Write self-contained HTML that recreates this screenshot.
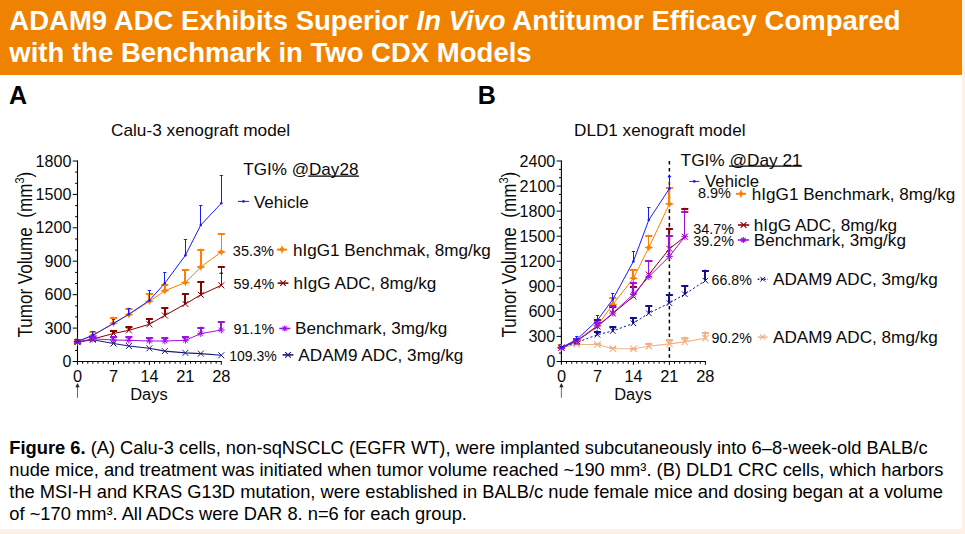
<!DOCTYPE html>
<html lang="en">
<head>
<meta charset="utf-8">
<title>ADAM9 ADC Figure 6</title>
<style>
html,body{margin:0;padding:0;}
body{width:965px;height:534px;overflow:hidden;background:#fef0e5;font-family:"Liberation Sans", sans-serif;position:relative;}
#panel{position:absolute;left:0;top:0;width:962px;height:529px;background:#fff;}
#hdr{position:absolute;left:0;top:0;width:962px;height:74.6px;background:#ef8200;}
#hdr h1{position:absolute;left:9.3px;top:5.1px;margin:0;font-size:27.52px;line-height:32px;font-weight:bold;color:#fff;white-space:nowrap;letter-spacing:0;}
.pl{position:absolute;font-weight:bold;font-size:25px;line-height:25px;color:#000;}
#cap{position:absolute;left:9.3px;top:437.0px;width:950px;margin:0;font-size:18.31px;line-height:21.9px;color:#000;white-space:nowrap;}
</style>
</head>
<body>
<div id="panel"></div>
<div id="hdr"><h1>ADAM9 ADC Exhibits Superior <i>In Vivo</i> Antitumor Efficacy Compared<br>with the Benchmark in Two CDX Models</h1></div>
<div class="pl" style="left:9.0px;top:82.7px">A</div>
<div class="pl" style="left:477.7px;top:82.7px">B</div>
<svg width="965" height="534" viewBox="0 0 965 534" style="position:absolute;left:0;top:0" font-family='"Liberation Sans", sans-serif' fill="#0a0a0a">
<path d="M77.5 160.5V364.8" stroke="#000" stroke-width="1.1"/>
<path d="M72.7 361.5H221.8" stroke="#000" stroke-width="1.1"/>
<path d="M75.1 350.4H77.5" stroke="#000" stroke-width="1"/>
<path d="M75.1 339.2H77.5" stroke="#000" stroke-width="1"/>
<path d="M72.7 328.1H77.5" stroke="#000" stroke-width="1"/>
<path d="M75.1 316.9H77.5" stroke="#000" stroke-width="1"/>
<path d="M75.1 305.8H77.5" stroke="#000" stroke-width="1"/>
<path d="M72.7 294.7H77.5" stroke="#000" stroke-width="1"/>
<path d="M75.1 283.5H77.5" stroke="#000" stroke-width="1"/>
<path d="M75.1 272.4H77.5" stroke="#000" stroke-width="1"/>
<path d="M72.7 261.2H77.5" stroke="#000" stroke-width="1"/>
<path d="M75.1 250.1H77.5" stroke="#000" stroke-width="1"/>
<path d="M75.1 239.0H77.5" stroke="#000" stroke-width="1"/>
<path d="M72.7 227.8H77.5" stroke="#000" stroke-width="1"/>
<path d="M75.1 216.7H77.5" stroke="#000" stroke-width="1"/>
<path d="M75.1 205.6H77.5" stroke="#000" stroke-width="1"/>
<path d="M72.7 194.4H77.5" stroke="#000" stroke-width="1"/>
<path d="M75.1 183.3H77.5" stroke="#000" stroke-width="1"/>
<path d="M75.1 172.1H77.5" stroke="#000" stroke-width="1"/>
<path d="M72.7 161.0H77.5" stroke="#000" stroke-width="1"/>
<path d="M82.6 361.5V363.7" stroke="#000" stroke-width="1"/>
<path d="M87.8 361.5V363.7" stroke="#000" stroke-width="1"/>
<path d="M92.9 361.5V363.7" stroke="#000" stroke-width="1"/>
<path d="M98.0 361.5V363.7" stroke="#000" stroke-width="1"/>
<path d="M103.2 361.5V363.7" stroke="#000" stroke-width="1"/>
<path d="M108.3 361.5V363.7" stroke="#000" stroke-width="1"/>
<path d="M113.5 361.5V364.8" stroke="#000" stroke-width="1"/>
<path d="M118.6 361.5V363.7" stroke="#000" stroke-width="1"/>
<path d="M123.7 361.5V363.7" stroke="#000" stroke-width="1"/>
<path d="M128.9 361.5V363.7" stroke="#000" stroke-width="1"/>
<path d="M134.0 361.5V363.7" stroke="#000" stroke-width="1"/>
<path d="M139.1 361.5V363.7" stroke="#000" stroke-width="1"/>
<path d="M144.3 361.5V363.7" stroke="#000" stroke-width="1"/>
<path d="M149.4 361.5V364.8" stroke="#000" stroke-width="1"/>
<path d="M154.5 361.5V363.7" stroke="#000" stroke-width="1"/>
<path d="M159.7 361.5V363.7" stroke="#000" stroke-width="1"/>
<path d="M164.8 361.5V363.7" stroke="#000" stroke-width="1"/>
<path d="M169.9 361.5V363.7" stroke="#000" stroke-width="1"/>
<path d="M175.1 361.5V363.7" stroke="#000" stroke-width="1"/>
<path d="M180.2 361.5V363.7" stroke="#000" stroke-width="1"/>
<path d="M185.4 361.5V364.8" stroke="#000" stroke-width="1"/>
<path d="M190.5 361.5V363.7" stroke="#000" stroke-width="1"/>
<path d="M195.6 361.5V363.7" stroke="#000" stroke-width="1"/>
<path d="M200.8 361.5V363.7" stroke="#000" stroke-width="1"/>
<path d="M205.9 361.5V363.7" stroke="#000" stroke-width="1"/>
<path d="M211.0 361.5V363.7" stroke="#000" stroke-width="1"/>
<path d="M216.2 361.5V363.7" stroke="#000" stroke-width="1"/>
<path d="M221.3 361.5V364.8" stroke="#000" stroke-width="1"/>
<path d="M77.5 342.0L92.9 339.8L113.5 343.5L128.9 346.0L149.4 348.3L164.8 351.1L185.4 352.9L200.8 353.6L221.3 355.3" stroke="#1c1c78" stroke-width="1.1" fill="none"/>
<path d="M74.5 339.0L80.5 345.0M74.5 345.0L80.5 339.0" stroke="#1c1c78" stroke-width="1.0" fill="none"/>
<path d="M89.9 336.8L95.9 342.8M89.9 342.8L95.9 336.8" stroke="#1c1c78" stroke-width="1.0" fill="none"/>
<path d="M110.5 340.5L116.5 346.5M110.5 346.5L116.5 340.5" stroke="#1c1c78" stroke-width="1.0" fill="none"/>
<path d="M125.9 343.0L131.9 349.0M125.9 349.0L131.9 343.0" stroke="#1c1c78" stroke-width="1.0" fill="none"/>
<path d="M146.4 345.3L152.4 351.3M146.4 351.3L152.4 345.3" stroke="#1c1c78" stroke-width="1.0" fill="none"/>
<path d="M161.8 348.1L167.8 354.1M161.8 354.1L167.8 348.1" stroke="#1c1c78" stroke-width="1.0" fill="none"/>
<path d="M182.4 349.9L188.4 355.9M182.4 355.9L188.4 349.9" stroke="#1c1c78" stroke-width="1.0" fill="none"/>
<path d="M197.8 350.6L203.8 356.6M197.8 356.6L203.8 350.6" stroke="#1c1c78" stroke-width="1.0" fill="none"/>
<path d="M218.3 352.3L224.3 358.3M218.3 358.3L224.3 352.3" stroke="#1c1c78" stroke-width="1.0" fill="none"/>
<path d="M77.5 342.0L92.9 335.3L113.5 323.2L128.9 314.6L149.4 301.3L164.8 290.8L185.4 282.5L200.8 267.0L221.3 251.9" stroke="#ff7f00" stroke-width="1.0" fill="none"/>
<path d="M78.0 342.0V340.5" stroke="#ff7f00" stroke-width="2.0"/>
<path d="M74.0 341.0H81.0" stroke="#ff7f00" stroke-width="2.0"/>
<path d="M93.0 335.3V331.0" stroke="#ff7f00" stroke-width="2.0"/>
<path d="M89.4 332.0H96.4" stroke="#ff7f00" stroke-width="2.0"/>
<path d="M113.0 323.2V316.8" stroke="#ff7f00" stroke-width="2.0"/>
<path d="M110.0 318.0H117.0" stroke="#ff7f00" stroke-width="2.0"/>
<path d="M129.0 314.6V307.8" stroke="#ff7f00" stroke-width="2.0"/>
<path d="M125.4 309.0H132.4" stroke="#ff7f00" stroke-width="2.0"/>
<path d="M149.0 301.3V293.0" stroke="#ff7f00" stroke-width="2.0"/>
<path d="M145.9 294.0H152.9" stroke="#ff7f00" stroke-width="2.0"/>
<path d="M165.0 290.8V283.7" stroke="#ff7f00" stroke-width="2.0"/>
<path d="M161.3 285.0H168.3" stroke="#ff7f00" stroke-width="2.0"/>
<path d="M185.0 282.5V268.9" stroke="#ff7f00" stroke-width="2.0"/>
<path d="M181.9 270.0H188.9" stroke="#ff7f00" stroke-width="2.0"/>
<path d="M201.0 267.0V248.8" stroke="#ff7f00" stroke-width="2.0"/>
<path d="M197.3 250.0H204.3" stroke="#ff7f00" stroke-width="2.0"/>
<path d="M221.5 251.9V233.2" stroke="#ff7f00" stroke-width="1.0"/>
<path d="M217.8 234.0H224.8" stroke="#ff7f00" stroke-width="2.0"/>
<path d="M74.0 342.0L77.5 339.5L81.0 342.0L77.5 344.5Z" fill="#ff7f00"/><path d="M77.5 338.6V345.4M73.5 342.0H81.5" stroke="#ff7f00" stroke-width="1.0"/>
<path d="M89.4 335.3L92.9 332.8L96.4 335.3L92.9 337.8Z" fill="#ff7f00"/><path d="M92.9 331.9V338.7M88.9 335.3H96.9" stroke="#ff7f00" stroke-width="1.0"/>
<path d="M110.0 323.2L113.5 320.7L117.0 323.2L113.5 325.7Z" fill="#ff7f00"/><path d="M113.5 319.8V326.6M109.5 323.2H117.5" stroke="#ff7f00" stroke-width="1.0"/>
<path d="M125.4 314.6L128.9 312.1L132.4 314.6L128.9 317.1Z" fill="#ff7f00"/><path d="M128.9 311.2V318.0M124.9 314.6H132.9" stroke="#ff7f00" stroke-width="1.0"/>
<path d="M145.9 301.3L149.4 298.8L152.9 301.3L149.4 303.8Z" fill="#ff7f00"/><path d="M149.4 297.9V304.7M145.4 301.3H153.4" stroke="#ff7f00" stroke-width="1.0"/>
<path d="M161.3 290.8L164.8 288.3L168.3 290.8L164.8 293.3Z" fill="#ff7f00"/><path d="M164.8 287.4V294.2M160.8 290.8H168.8" stroke="#ff7f00" stroke-width="1.0"/>
<path d="M181.9 282.5L185.4 280.0L188.9 282.5L185.4 285.0Z" fill="#ff7f00"/><path d="M185.4 279.1V285.9M181.4 282.5H189.4" stroke="#ff7f00" stroke-width="1.0"/>
<path d="M197.3 267.0L200.8 264.5L204.3 267.0L200.8 269.5Z" fill="#ff7f00"/><path d="M200.8 263.6V270.4M196.8 267.0H204.8" stroke="#ff7f00" stroke-width="1.0"/>
<path d="M217.8 251.9L221.3 249.4L224.8 251.9L221.3 254.4Z" fill="#ff7f00"/><path d="M221.3 248.5V255.3M217.3 251.9H225.3" stroke="#ff7f00" stroke-width="1.0"/>
<path d="M77.5 342.2L92.9 339.0L113.5 333.5L128.9 330.3L149.4 324.3L164.8 315.5L185.4 304.0L200.8 294.8L221.3 285.3" stroke="#8b0000" stroke-width="1.0" fill="none"/>
<path d="M78.0 342.2V341.0" stroke="#8b0000" stroke-width="2.0"/>
<path d="M74.0 342.0H81.0" stroke="#8b0000" stroke-width="2.0"/>
<path d="M93.0 339.0V336.9" stroke="#8b0000" stroke-width="2.0"/>
<path d="M89.4 338.0H96.4" stroke="#8b0000" stroke-width="2.0"/>
<path d="M113.0 333.5V330.1" stroke="#8b0000" stroke-width="2.0"/>
<path d="M110.0 331.0H117.0" stroke="#8b0000" stroke-width="2.0"/>
<path d="M129.0 330.3V326.0" stroke="#8b0000" stroke-width="2.0"/>
<path d="M125.4 327.0H132.4" stroke="#8b0000" stroke-width="2.0"/>
<path d="M149.0 324.3V318.3" stroke="#8b0000" stroke-width="2.0"/>
<path d="M145.9 319.0H152.9" stroke="#8b0000" stroke-width="2.0"/>
<path d="M165.0 315.5V307.0" stroke="#8b0000" stroke-width="2.0"/>
<path d="M161.3 308.0H168.3" stroke="#8b0000" stroke-width="2.0"/>
<path d="M185.0 304.0V293.0" stroke="#8b0000" stroke-width="2.0"/>
<path d="M181.9 294.0H188.9" stroke="#8b0000" stroke-width="2.0"/>
<path d="M201.0 294.8V280.9" stroke="#8b0000" stroke-width="2.0"/>
<path d="M197.3 282.0H204.3" stroke="#8b0000" stroke-width="2.0"/>
<path d="M221.5 285.3V266.1" stroke="#8b0000" stroke-width="1.0"/>
<path d="M217.8 267.0H224.8" stroke="#8b0000" stroke-width="2.0"/>
<path d="M74.5 339.2L80.5 345.2M74.5 345.2L80.5 339.2" stroke="#8b0000" stroke-width="1.0" fill="none"/>
<path d="M89.9 336.0L95.9 342.0M89.9 342.0L95.9 336.0" stroke="#8b0000" stroke-width="1.0" fill="none"/>
<path d="M110.5 330.5L116.5 336.5M110.5 336.5L116.5 330.5" stroke="#8b0000" stroke-width="1.0" fill="none"/>
<path d="M125.9 327.3L131.9 333.3M125.9 333.3L131.9 327.3" stroke="#8b0000" stroke-width="1.0" fill="none"/>
<path d="M146.4 321.3L152.4 327.3M146.4 327.3L152.4 321.3" stroke="#8b0000" stroke-width="1.0" fill="none"/>
<path d="M161.8 312.5L167.8 318.5M161.8 318.5L167.8 312.5" stroke="#8b0000" stroke-width="1.0" fill="none"/>
<path d="M182.4 301.0L188.4 307.0M182.4 307.0L188.4 301.0" stroke="#8b0000" stroke-width="1.0" fill="none"/>
<path d="M197.8 291.8L203.8 297.8M197.8 297.8L203.8 291.8" stroke="#8b0000" stroke-width="1.0" fill="none"/>
<path d="M218.3 282.3L224.3 288.3M218.3 288.3L224.3 282.3" stroke="#8b0000" stroke-width="1.0" fill="none"/>
<path d="M77.5 342.5L92.9 338.8L113.5 340.0L128.9 340.3L149.4 341.0L164.8 341.0L185.4 340.3L200.8 333.6L221.3 330.0" stroke="#a010e6" stroke-width="1.0" fill="none"/>
<path d="M78.0 342.5V341.5" stroke="#a010e6" stroke-width="2.0"/>
<path d="M74.0 343.0H81.0" stroke="#a010e6" stroke-width="2.0"/>
<path d="M93.0 338.8V336.4" stroke="#a010e6" stroke-width="2.0"/>
<path d="M89.4 337.0H96.4" stroke="#a010e6" stroke-width="2.0"/>
<path d="M113.0 340.0V336.0" stroke="#a010e6" stroke-width="2.0"/>
<path d="M110.0 337.0H117.0" stroke="#a010e6" stroke-width="2.0"/>
<path d="M129.0 340.3V336.0" stroke="#a010e6" stroke-width="2.0"/>
<path d="M125.4 337.0H132.4" stroke="#a010e6" stroke-width="2.0"/>
<path d="M149.0 341.0V337.0" stroke="#a010e6" stroke-width="2.0"/>
<path d="M145.9 338.0H152.9" stroke="#a010e6" stroke-width="2.0"/>
<path d="M165.0 341.0V337.0" stroke="#a010e6" stroke-width="2.0"/>
<path d="M161.3 338.0H168.3" stroke="#a010e6" stroke-width="2.0"/>
<path d="M185.0 340.3V336.0" stroke="#a010e6" stroke-width="2.0"/>
<path d="M181.9 337.0H188.9" stroke="#a010e6" stroke-width="2.0"/>
<path d="M201.0 333.6V326.8" stroke="#a010e6" stroke-width="2.0"/>
<path d="M197.3 328.0H204.3" stroke="#a010e6" stroke-width="2.0"/>
<path d="M221.0 330.0V321.0" stroke="#a010e6" stroke-width="2.0"/>
<path d="M217.8 322.0H224.8" stroke="#a010e6" stroke-width="2.0"/>
<path d="M77.5 339.1V345.9M74.1 342.5H80.9M75.1 340.1L79.9 344.9M75.1 344.9L79.9 340.1" stroke="#a010e6" stroke-width="1.0" fill="none"/>
<path d="M92.9 335.4V342.2M89.5 338.8H96.3M90.5 336.4L95.4 341.2M90.5 341.2L95.4 336.4" stroke="#a010e6" stroke-width="1.0" fill="none"/>
<path d="M113.5 336.6V343.4M110.0 340.0H116.9M111.0 337.6L115.9 342.4M111.0 342.4L115.9 337.6" stroke="#a010e6" stroke-width="1.0" fill="none"/>
<path d="M128.9 336.9V343.7M125.5 340.3H132.3M126.4 337.9L131.3 342.7M126.4 342.7L131.3 337.9" stroke="#a010e6" stroke-width="1.0" fill="none"/>
<path d="M149.4 337.6V344.4M146.0 341.0H152.8M147.0 338.6L151.8 343.4M147.0 343.4L151.8 338.6" stroke="#a010e6" stroke-width="1.0" fill="none"/>
<path d="M164.8 337.6V344.4M161.4 341.0H168.2M162.4 338.6L167.3 343.4M162.4 343.4L167.3 338.6" stroke="#a010e6" stroke-width="1.0" fill="none"/>
<path d="M185.4 336.9V343.7M182.0 340.3H188.8M182.9 337.9L187.8 342.7M182.9 342.7L187.8 337.9" stroke="#a010e6" stroke-width="1.0" fill="none"/>
<path d="M200.8 330.2V337.0M197.4 333.6H204.2M198.3 331.2L203.2 336.0M198.3 336.0L203.2 331.2" stroke="#a010e6" stroke-width="1.0" fill="none"/>
<path d="M221.3 326.6V333.4M217.9 330.0H224.7M218.9 327.6L223.7 332.4M218.9 332.4L223.7 327.6" stroke="#a010e6" stroke-width="1.0" fill="none"/>
<path d="M77.5 341.3L92.9 335.3L113.5 323.5L128.9 314.2L149.4 300.4L164.8 283.3L185.4 255.3L200.8 225.0L221.3 203.3" stroke="#1a1aff" stroke-width="1.0" fill="none"/>
<path d="M77.5 341.3V339.8" stroke="#1a1aff" stroke-width="1.0"/>
<path d="M75.9 339.5H79.1" stroke="#1a1aff" stroke-width="1.0"/>
<path d="M92.5 335.3V331.4" stroke="#1a1aff" stroke-width="1.0"/>
<path d="M91.3 331.5H94.5" stroke="#1a1aff" stroke-width="1.0"/>
<path d="M113.5 323.5V319.3" stroke="#1a1aff" stroke-width="1.0"/>
<path d="M111.9 319.5H115.0" stroke="#1a1aff" stroke-width="1.0"/>
<path d="M128.5 314.2V308.3" stroke="#1a1aff" stroke-width="1.0"/>
<path d="M127.3 308.5H130.5" stroke="#1a1aff" stroke-width="1.0"/>
<path d="M149.5 300.4V290.3" stroke="#1a1aff" stroke-width="1.0"/>
<path d="M147.8 290.5H151.0" stroke="#1a1aff" stroke-width="1.0"/>
<path d="M164.5 283.3V272.6" stroke="#1a1aff" stroke-width="1.0"/>
<path d="M163.2 272.5H166.4" stroke="#1a1aff" stroke-width="1.0"/>
<path d="M185.5 255.3V239.6" stroke="#1a1aff" stroke-width="1.0"/>
<path d="M183.8 239.5H187.0" stroke="#1a1aff" stroke-width="1.0"/>
<path d="M200.5 225.0V205.4" stroke="#1a1aff" stroke-width="1.0"/>
<path d="M199.2 205.5H202.4" stroke="#1a1aff" stroke-width="1.0"/>
<path d="M221.5 203.3V175.4" stroke="#1a1aff" stroke-width="1.0"/>
<path d="M219.7 175.5H222.9" stroke="#1a1aff" stroke-width="1.0"/>
<circle cx="77.5" cy="341.3" r="1.3" fill="#1a1aff"/>
<circle cx="92.9" cy="335.3" r="1.3" fill="#1a1aff"/>
<circle cx="113.5" cy="323.5" r="1.3" fill="#1a1aff"/>
<circle cx="128.9" cy="314.2" r="1.3" fill="#1a1aff"/>
<circle cx="149.4" cy="300.4" r="1.3" fill="#1a1aff"/>
<circle cx="164.8" cy="283.3" r="1.3" fill="#1a1aff"/>
<circle cx="185.4" cy="255.3" r="1.3" fill="#1a1aff"/>
<circle cx="200.8" cy="225.0" r="1.3" fill="#1a1aff"/>
<circle cx="221.3" cy="203.3" r="1.3" fill="#1a1aff"/>
<path d="M219.5 273.2H223.1" stroke="#000" stroke-width="1"/>
<text x="35.6" y="166.6" font-size="16" textLength="35.8" lengthAdjust="spacingAndGlyphs" font-weight="normal">1800</text>
<text x="35.6" y="200.0" font-size="16" textLength="35.8" lengthAdjust="spacingAndGlyphs" font-weight="normal">1500</text>
<text x="35.6" y="233.4" font-size="16" textLength="35.8" lengthAdjust="spacingAndGlyphs" font-weight="normal">1200</text>
<text x="44.5" y="266.9" font-size="16" textLength="26.9" lengthAdjust="spacingAndGlyphs" font-weight="normal">900</text>
<text x="44.5" y="300.3" font-size="16" textLength="26.9" lengthAdjust="spacingAndGlyphs" font-weight="normal">600</text>
<text x="44.5" y="333.7" font-size="16" textLength="26.9" lengthAdjust="spacingAndGlyphs" font-weight="normal">300</text>
<text x="62.5" y="367.1" font-size="16" textLength="8.9" lengthAdjust="spacingAndGlyphs" font-weight="normal">0</text>
<text x="73.0" y="382.0" font-size="16.3" textLength="9.1" lengthAdjust="spacingAndGlyphs" font-weight="normal">0</text>
<text x="108.9" y="382.0" font-size="16.3" textLength="9.1" lengthAdjust="spacingAndGlyphs" font-weight="normal">7</text>
<text x="140.4" y="382.0" font-size="16.3" textLength="18.0" lengthAdjust="spacingAndGlyphs" font-weight="normal">14</text>
<text x="176.2" y="382.0" font-size="16.3" textLength="18.3" lengthAdjust="spacingAndGlyphs" font-weight="normal">21</text>
<text x="212.2" y="382.0" font-size="16.3" textLength="18.3" lengthAdjust="spacingAndGlyphs" font-weight="normal">28</text>
<text x="130.2" y="400.2" font-size="16" textLength="37.4" lengthAdjust="spacingAndGlyphs" font-weight="normal">Days</text>
<path d="M77.5 397.8V386" stroke="#444" stroke-width="0.8"/><path d="M77.5 383.0L79.6 387.3H75.4Z" fill="#222"/>
<g transform="translate(31.8 337.6) rotate(-90) scale(1 1.14)"><text x="0" y="0" font-size="17.1" textLength="165.8" lengthAdjust="spacingAndGlyphs">Tumor Volume&#160; (mm<tspan font-size="11" dy="-7.2">3</tspan><tspan dy="7.2">)</tspan></text></g>
<text x="111.0" y="136.0" font-size="16.2" textLength="179.2" lengthAdjust="spacingAndGlyphs" font-weight="normal">Calu-3 xenograft model</text>
<text x="243.3" y="175.4" font-size="16.2" textLength="115.1" lengthAdjust="spacingAndGlyphs" font-weight="normal">TGI% @Day28</text>
<path d="M308.2 176.1H359" stroke="#000" stroke-width="1.2"/>
<path d="M238.0 201.4H249.0" stroke="#1a1aff" stroke-width="1.0"/><circle cx="243.5" cy="201.4" r="1.3" fill="#1a1aff"/>
<text x="253.9" y="207.6" font-size="16.2" textLength="54.9" lengthAdjust="spacingAndGlyphs" font-weight="normal">Vehicle</text>
<text x="232.8" y="255.6" font-size="14.3" textLength="41.2" lengthAdjust="spacingAndGlyphs" font-weight="normal">35.3%</text>
<path d="M277.0 249.6H287.0" stroke="#ff7f00" stroke-width="1.9"/><path d="M279.1 249.6L282.0 246.6L284.9 249.6L282.0 252.6Z" fill="#ff7f00"/><path d="M282.0 245.7V253.5M278.6 249.6H285.4" stroke="#ff7f00" stroke-width="1.0"/>
<text x="293.0" y="255.8" font-size="16.2" textLength="197.8" lengthAdjust="spacingAndGlyphs" font-weight="normal">hIgG1 Benchmak, 8mg/kg</text>
<text x="233.4" y="288.8" font-size="14.3" textLength="40.8" lengthAdjust="spacingAndGlyphs" font-weight="normal">59.4%</text>
<path d="M277.6 283.1H288.4" stroke="#8b0000" stroke-width="1.6"/><path d="M280.2 280.3L285.8 285.9M280.2 285.9L285.8 280.3" stroke="#8b0000" stroke-width="1.1" fill="none"/>
<text x="293.6" y="288.8" font-size="16.2" textLength="142.6" lengthAdjust="spacingAndGlyphs" font-weight="normal">hIgG ADC, 8mg/kg</text>
<text x="233.4" y="333.6" font-size="14.3" textLength="40.8" lengthAdjust="spacingAndGlyphs" font-weight="normal">91.1%</text>
<path d="M279.3 328.5H290.3" stroke="#a010e6" stroke-width="1.6"/><path d="M284.8 325.5V331.5M281.8 328.5H287.8M282.6 326.3L287.0 330.7M282.6 330.7L287.0 326.3" stroke="#a010e6" stroke-width="1.1" fill="none"/>
<text x="295.0" y="333.6" font-size="16.2" textLength="152.4" lengthAdjust="spacingAndGlyphs" font-weight="normal">Benchmark, 3mg/kg</text>
<text x="229.2" y="360.7" font-size="14.3" textLength="47.6" lengthAdjust="spacingAndGlyphs" font-weight="normal">109.3%</text>
<path d="M282.6 354.9H293.4" stroke="#1c1c78" stroke-width="1.6"/><path d="M285.2 352.1L290.8 357.7M285.2 357.7L290.8 352.1" stroke="#1c1c78" stroke-width="1.1" fill="none"/>
<text x="298.3" y="360.7" font-size="16.2" textLength="165.1" lengthAdjust="spacingAndGlyphs" font-weight="normal">ADAM9 ADC, 3mg/kg</text>
<path d="M561.4 160.5V364.8" stroke="#000" stroke-width="1.1"/>
<path d="M556.6 361.5H705.9" stroke="#000" stroke-width="1.1"/>
<path d="M559.0 353.1H561.4" stroke="#000" stroke-width="1"/>
<path d="M559.0 344.8H561.4" stroke="#000" stroke-width="1"/>
<path d="M556.6 336.4H561.4" stroke="#000" stroke-width="1"/>
<path d="M559.0 328.1H561.4" stroke="#000" stroke-width="1"/>
<path d="M559.0 319.7H561.4" stroke="#000" stroke-width="1"/>
<path d="M556.6 311.4H561.4" stroke="#000" stroke-width="1"/>
<path d="M559.0 303.0H561.4" stroke="#000" stroke-width="1"/>
<path d="M559.0 294.7H561.4" stroke="#000" stroke-width="1"/>
<path d="M556.6 286.3H561.4" stroke="#000" stroke-width="1"/>
<path d="M559.0 278.0H561.4" stroke="#000" stroke-width="1"/>
<path d="M559.0 269.6H561.4" stroke="#000" stroke-width="1"/>
<path d="M556.6 261.2H561.4" stroke="#000" stroke-width="1"/>
<path d="M559.0 252.9H561.4" stroke="#000" stroke-width="1"/>
<path d="M559.0 244.5H561.4" stroke="#000" stroke-width="1"/>
<path d="M556.6 236.2H561.4" stroke="#000" stroke-width="1"/>
<path d="M559.0 227.8H561.4" stroke="#000" stroke-width="1"/>
<path d="M559.0 219.5H561.4" stroke="#000" stroke-width="1"/>
<path d="M556.6 211.1H561.4" stroke="#000" stroke-width="1"/>
<path d="M559.0 202.8H561.4" stroke="#000" stroke-width="1"/>
<path d="M559.0 194.4H561.4" stroke="#000" stroke-width="1"/>
<path d="M556.6 186.1H561.4" stroke="#000" stroke-width="1"/>
<path d="M559.0 177.7H561.4" stroke="#000" stroke-width="1"/>
<path d="M559.0 169.4H561.4" stroke="#000" stroke-width="1"/>
<path d="M556.6 161.0H561.4" stroke="#000" stroke-width="1"/>
<path d="M566.5 361.5V363.7" stroke="#000" stroke-width="1"/>
<path d="M571.7 361.5V363.7" stroke="#000" stroke-width="1"/>
<path d="M576.8 361.5V363.7" stroke="#000" stroke-width="1"/>
<path d="M582.0 361.5V363.7" stroke="#000" stroke-width="1"/>
<path d="M587.1 361.5V363.7" stroke="#000" stroke-width="1"/>
<path d="M592.3 361.5V363.7" stroke="#000" stroke-width="1"/>
<path d="M597.4 361.5V364.8" stroke="#000" stroke-width="1"/>
<path d="M602.5 361.5V363.7" stroke="#000" stroke-width="1"/>
<path d="M607.7 361.5V363.7" stroke="#000" stroke-width="1"/>
<path d="M612.8 361.5V363.7" stroke="#000" stroke-width="1"/>
<path d="M618.0 361.5V363.7" stroke="#000" stroke-width="1"/>
<path d="M623.1 361.5V363.7" stroke="#000" stroke-width="1"/>
<path d="M628.3 361.5V363.7" stroke="#000" stroke-width="1"/>
<path d="M633.4 361.5V364.8" stroke="#000" stroke-width="1"/>
<path d="M638.5 361.5V363.7" stroke="#000" stroke-width="1"/>
<path d="M643.7 361.5V363.7" stroke="#000" stroke-width="1"/>
<path d="M648.8 361.5V363.7" stroke="#000" stroke-width="1"/>
<path d="M654.0 361.5V363.7" stroke="#000" stroke-width="1"/>
<path d="M659.1 361.5V363.7" stroke="#000" stroke-width="1"/>
<path d="M664.3 361.5V363.7" stroke="#000" stroke-width="1"/>
<path d="M669.4 361.5V364.8" stroke="#000" stroke-width="1"/>
<path d="M674.5 361.5V363.7" stroke="#000" stroke-width="1"/>
<path d="M679.7 361.5V363.7" stroke="#000" stroke-width="1"/>
<path d="M684.8 361.5V363.7" stroke="#000" stroke-width="1"/>
<path d="M690.0 361.5V363.7" stroke="#000" stroke-width="1"/>
<path d="M695.1 361.5V363.7" stroke="#000" stroke-width="1"/>
<path d="M700.3 361.5V363.7" stroke="#000" stroke-width="1"/>
<path d="M705.4 361.5V364.8" stroke="#000" stroke-width="1"/>
<path d="M669.4 161V361.5" stroke="#000" stroke-width="1.5" stroke-dasharray="3.6 3.3"/>
<path d="M561.4 347.7L576.8 344.5L597.4 344.5L612.8 348.7L633.4 348.8L648.8 346.3L669.4 343.9L684.8 341.9L705.4 338.2" stroke="#f4b183" stroke-width="1.1" fill="none"/>
<path d="M561.0 347.7V346.7" stroke="#f4b183" stroke-width="2.0"/>
<path d="M557.9 348.0H564.9" stroke="#f4b183" stroke-width="2.0"/>
<path d="M577.0 344.5V343.0" stroke="#f4b183" stroke-width="2.0"/>
<path d="M573.3 344.0H580.3" stroke="#f4b183" stroke-width="2.0"/>
<path d="M597.0 344.5V343.0" stroke="#f4b183" stroke-width="2.0"/>
<path d="M593.9 344.0H600.9" stroke="#f4b183" stroke-width="2.0"/>
<path d="M613.0 348.7V347.4" stroke="#f4b183" stroke-width="2.0"/>
<path d="M609.3 348.0H616.3" stroke="#f4b183" stroke-width="2.0"/>
<path d="M633.0 348.8V347.5" stroke="#f4b183" stroke-width="2.0"/>
<path d="M629.9 349.0H636.9" stroke="#f4b183" stroke-width="2.0"/>
<path d="M649.0 346.3V342.8" stroke="#f4b183" stroke-width="2.0"/>
<path d="M645.3 344.0H652.3" stroke="#f4b183" stroke-width="2.0"/>
<path d="M669.0 343.9V339.4" stroke="#f4b183" stroke-width="2.0"/>
<path d="M665.9 340.0H672.9" stroke="#f4b183" stroke-width="2.0"/>
<path d="M685.0 341.9V336.8" stroke="#f4b183" stroke-width="2.0"/>
<path d="M681.3 338.0H688.3" stroke="#f4b183" stroke-width="2.0"/>
<path d="M705.0 338.2V331.6" stroke="#f4b183" stroke-width="2.0"/>
<path d="M701.9 333.0H708.9" stroke="#f4b183" stroke-width="2.0"/>
<path d="M558.2 344.5L564.6 350.9M558.2 350.9L564.6 344.5" stroke="#f4b183" stroke-width="1.1" fill="none"/>
<path d="M573.6 341.3L580.0 347.7M573.6 347.7L580.0 341.3" stroke="#f4b183" stroke-width="1.1" fill="none"/>
<path d="M594.2 341.3L600.6 347.7M594.2 347.7L600.6 341.3" stroke="#f4b183" stroke-width="1.1" fill="none"/>
<path d="M609.6 345.5L616.0 351.9M609.6 351.9L616.0 345.5" stroke="#f4b183" stroke-width="1.1" fill="none"/>
<path d="M630.2 345.6L636.6 352.0M630.2 352.0L636.6 345.6" stroke="#f4b183" stroke-width="1.1" fill="none"/>
<path d="M645.6 343.1L652.0 349.5M645.6 349.5L652.0 343.1" stroke="#f4b183" stroke-width="1.1" fill="none"/>
<path d="M666.2 340.7L672.6 347.1M666.2 347.1L672.6 340.7" stroke="#f4b183" stroke-width="1.1" fill="none"/>
<path d="M681.6 338.7L688.0 345.1M681.6 345.1L688.0 338.7" stroke="#f4b183" stroke-width="1.1" fill="none"/>
<path d="M702.2 335.0L708.6 341.4M702.2 341.4L708.6 335.0" stroke="#f4b183" stroke-width="1.1" fill="none"/>
<path d="M561.4 347.7L576.8 342.5L597.4 334.7L612.8 331.0L633.4 323.3L648.8 313.3L669.4 303.1L684.8 294.2L705.4 280.6" stroke="#10108c" stroke-width="1.0" fill="none" stroke-dasharray="2.2 2.2"/>
<path d="M561.0 347.7V346.7" stroke="#10108c" stroke-width="2.0"/>
<path d="M557.9 348.0H564.9" stroke="#10108c" stroke-width="2.0"/>
<path d="M577.0 342.5V340.0" stroke="#10108c" stroke-width="2.0"/>
<path d="M573.3 341.0H580.3" stroke="#10108c" stroke-width="2.0"/>
<path d="M597.0 334.7V330.6" stroke="#10108c" stroke-width="2.0"/>
<path d="M593.9 332.0H600.9" stroke="#10108c" stroke-width="2.0"/>
<path d="M613.0 331.0V326.2" stroke="#10108c" stroke-width="2.0"/>
<path d="M609.3 327.0H616.3" stroke="#10108c" stroke-width="2.0"/>
<path d="M633.0 323.3V317.2" stroke="#10108c" stroke-width="2.0"/>
<path d="M629.9 318.0H636.9" stroke="#10108c" stroke-width="2.0"/>
<path d="M649.0 313.3V305.4" stroke="#10108c" stroke-width="2.0"/>
<path d="M645.3 306.0H652.3" stroke="#10108c" stroke-width="2.0"/>
<path d="M669.0 303.1V294.4" stroke="#10108c" stroke-width="2.0"/>
<path d="M665.9 295.0H672.9" stroke="#10108c" stroke-width="2.0"/>
<path d="M685.0 294.2V285.3" stroke="#10108c" stroke-width="2.0"/>
<path d="M681.3 286.0H688.3" stroke="#10108c" stroke-width="2.0"/>
<path d="M705.0 280.6V269.8" stroke="#10108c" stroke-width="2.0"/>
<path d="M701.9 271.0H708.9" stroke="#10108c" stroke-width="2.0"/>
<path d="M558.6 344.9L564.2 350.5M558.6 350.5L564.2 344.9" stroke="#10108c" stroke-width="1.0" fill="none"/>
<path d="M574.0 339.7L579.6 345.3M574.0 345.3L579.6 339.7" stroke="#10108c" stroke-width="1.0" fill="none"/>
<path d="M594.6 331.9L600.2 337.5M594.6 337.5L600.2 331.9" stroke="#10108c" stroke-width="1.0" fill="none"/>
<path d="M610.0 328.2L615.6 333.8M610.0 333.8L615.6 328.2" stroke="#10108c" stroke-width="1.0" fill="none"/>
<path d="M630.6 320.5L636.2 326.1M630.6 326.1L636.2 320.5" stroke="#10108c" stroke-width="1.0" fill="none"/>
<path d="M646.0 310.5L651.6 316.1M646.0 316.1L651.6 310.5" stroke="#10108c" stroke-width="1.0" fill="none"/>
<path d="M666.6 300.3L672.2 305.9M666.6 305.9L672.2 300.3" stroke="#10108c" stroke-width="1.0" fill="none"/>
<path d="M682.0 291.4L687.6 297.0M682.0 297.0L687.6 291.4" stroke="#10108c" stroke-width="1.0" fill="none"/>
<path d="M702.6 277.8L708.2 283.4M702.6 283.4L708.2 277.8" stroke="#10108c" stroke-width="1.0" fill="none"/>
<path d="M561.4 347.7L576.8 340.5L597.4 325.5L612.8 304.4L633.4 278.3L648.8 247.6L669.4 203.9" stroke="#ff7f00" stroke-width="1.0" fill="none"/>
<path d="M561.0 347.7V346.5" stroke="#ff7f00" stroke-width="2"/>
<path d="M557.9 347.0H564.9" stroke="#ff7f00" stroke-width="2.0"/>
<path d="M577.0 340.5V338.0" stroke="#ff7f00" stroke-width="2"/>
<path d="M573.3 339.0H580.3" stroke="#ff7f00" stroke-width="2.0"/>
<path d="M597.0 325.5V320.5" stroke="#ff7f00" stroke-width="2"/>
<path d="M593.9 321.0H600.9" stroke="#ff7f00" stroke-width="2.0"/>
<path d="M613.0 304.4V296.9" stroke="#ff7f00" stroke-width="2"/>
<path d="M609.3 298.0H616.3" stroke="#ff7f00" stroke-width="2.0"/>
<path d="M633.0 278.3V268.9" stroke="#ff7f00" stroke-width="2.2"/>
<path d="M629.9 270.0H636.9" stroke="#ff7f00" stroke-width="2.0"/>
<path d="M648.5 247.6V234.8" stroke="#ff7f00" stroke-width="1"/>
<path d="M645.3 236.0H652.3" stroke="#ff7f00" stroke-width="2.0"/>
<path d="M669.0 203.9V186.7" stroke="#ff7f00" stroke-width="2.2"/>
<path d="M665.9 188.0H672.9" stroke="#ff7f00" stroke-width="2.0"/>
<path d="M557.9 347.7L561.4 345.2L564.9 347.7L561.4 350.2Z" fill="#ff7f00"/><path d="M561.4 344.3V351.1M557.4 347.7H565.4" stroke="#ff7f00" stroke-width="1.0"/>
<path d="M573.3 340.5L576.8 338.0L580.3 340.5L576.8 343.0Z" fill="#ff7f00"/><path d="M576.8 337.1V343.9M572.8 340.5H580.8" stroke="#ff7f00" stroke-width="1.0"/>
<path d="M593.9 325.5L597.4 323.0L600.9 325.5L597.4 328.0Z" fill="#ff7f00"/><path d="M597.4 322.1V328.9M593.4 325.5H601.4" stroke="#ff7f00" stroke-width="1.0"/>
<path d="M609.3 304.4L612.8 301.9L616.3 304.4L612.8 306.9Z" fill="#ff7f00"/><path d="M612.8 301.0V307.8M608.8 304.4H616.8" stroke="#ff7f00" stroke-width="1.0"/>
<path d="M629.9 278.3L633.4 275.8L636.9 278.3L633.4 280.8Z" fill="#ff7f00"/><path d="M633.4 274.9V281.7M629.4 278.3H637.4" stroke="#ff7f00" stroke-width="1.0"/>
<path d="M645.3 247.6L648.8 245.1L652.3 247.6L648.8 250.1Z" fill="#ff7f00"/><path d="M648.8 244.2V251.0M644.8 247.6H652.8" stroke="#ff7f00" stroke-width="1.0"/>
<path d="M665.9 203.9L669.4 201.4L672.9 203.9L669.4 206.4Z" fill="#ff7f00"/><path d="M669.4 200.5V207.3M665.4 203.9H673.4" stroke="#ff7f00" stroke-width="1.0"/>
<path d="M561.4 347.7L576.8 341.0L597.4 326.5L612.8 313.5L633.4 296.5L648.8 274.6L669.4 248.8L684.8 236.7" stroke="#8b0000" stroke-width="1.0" fill="none"/>
<path d="M561.5 347.7V346.7" stroke="#8b0000" stroke-width="1"/>
<path d="M557.9 348.0H564.9" stroke="#8b0000" stroke-width="2.0"/>
<path d="M576.5 341.0V338.5" stroke="#8b0000" stroke-width="1"/>
<path d="M573.3 339.0H580.3" stroke="#8b0000" stroke-width="2.0"/>
<path d="M597.0 326.5V319.2" stroke="#8b0000" stroke-width="1.5"/>
<path d="M593.9 320.0H600.9" stroke="#8b0000" stroke-width="2.0"/>
<path d="M613.0 313.5V305.6" stroke="#8b0000" stroke-width="1.5"/>
<path d="M609.3 307.0H616.3" stroke="#8b0000" stroke-width="2.0"/>
<path d="M633.5 296.5V286.3" stroke="#8b0000" stroke-width="1"/>
<path d="M629.9 287.0H636.9" stroke="#8b0000" stroke-width="2.0"/>
<path d="M648.5 274.6V260.4" stroke="#8b0000" stroke-width="1"/>
<path d="M645.3 261.0H652.3" stroke="#8b0000" stroke-width="2.0"/>
<path d="M669.0 248.8V227.8" stroke="#8b0000" stroke-width="1.8"/>
<path d="M665.9 229.0H672.9" stroke="#8b0000" stroke-width="2.0"/>
<path d="M684.5 236.7V207.7" stroke="#8b0000" stroke-width="1"/>
<path d="M681.3 209.0H688.3" stroke="#8b0000" stroke-width="2.0"/>
<path d="M558.4 344.7L564.4 350.7M558.4 350.7L564.4 344.7" stroke="#8b0000" stroke-width="1.0" fill="none"/>
<path d="M573.8 338.0L579.8 344.0M573.8 344.0L579.8 338.0" stroke="#8b0000" stroke-width="1.0" fill="none"/>
<path d="M594.4 323.5L600.4 329.5M594.4 329.5L600.4 323.5" stroke="#8b0000" stroke-width="1.0" fill="none"/>
<path d="M609.8 310.5L615.8 316.5M609.8 316.5L615.8 310.5" stroke="#8b0000" stroke-width="1.0" fill="none"/>
<path d="M630.4 293.5L636.4 299.5M630.4 299.5L636.4 293.5" stroke="#8b0000" stroke-width="1.0" fill="none"/>
<path d="M645.8 271.6L651.8 277.6M645.8 277.6L651.8 271.6" stroke="#8b0000" stroke-width="1.0" fill="none"/>
<path d="M666.4 245.8L672.4 251.8M666.4 251.8L672.4 245.8" stroke="#8b0000" stroke-width="1.0" fill="none"/>
<path d="M681.8 233.7L687.8 239.7M681.8 239.7L687.8 233.7" stroke="#8b0000" stroke-width="1.0" fill="none"/>
<path d="M561.4 347.7L576.8 341.2L597.4 326.1L612.8 313.1L633.4 294.3L648.8 276.7L669.4 256.4L684.8 236.7" stroke="#a010e6" stroke-width="1.0" fill="none"/>
<path d="M561.0 347.7V346.7" stroke="#a010e6" stroke-width="2"/>
<path d="M557.9 348.0H564.9" stroke="#a010e6" stroke-width="2.0"/>
<path d="M577.0 341.2V338.5" stroke="#a010e6" stroke-width="2"/>
<path d="M573.3 339.0H580.3" stroke="#a010e6" stroke-width="2.0"/>
<path d="M597.0 326.1V321.5" stroke="#a010e6" stroke-width="2"/>
<path d="M593.9 323.0H600.9" stroke="#a010e6" stroke-width="2.0"/>
<path d="M613.0 313.1V305.1" stroke="#a010e6" stroke-width="2"/>
<path d="M609.3 306.0H616.3" stroke="#a010e6" stroke-width="2.0"/>
<path d="M633.0 294.3V281.7" stroke="#a010e6" stroke-width="2.4"/>
<path d="M629.9 283.0H636.9" stroke="#a010e6" stroke-width="2.0"/>
<path d="M648.5 276.7V259.9" stroke="#a010e6" stroke-width="1"/>
<path d="M645.3 261.0H652.3" stroke="#a010e6" stroke-width="2.0"/>
<path d="M669.0 256.4V234.8" stroke="#a010e6" stroke-width="2.2"/>
<path d="M665.9 236.0H672.9" stroke="#a010e6" stroke-width="2.0"/>
<path d="M684.5 236.7V210.6" stroke="#a010e6" stroke-width="1"/>
<path d="M681.3 212.0H688.3" stroke="#a010e6" stroke-width="2.0"/>
<path d="M561.4 344.3V351.1M558.0 347.7H564.8M559.0 345.3L563.8 350.1M559.0 350.1L563.8 345.3" stroke="#a010e6" stroke-width="1.0" fill="none"/>
<path d="M576.8 337.8V344.6M573.4 341.2H580.2M574.4 338.8L579.3 343.6M574.4 343.6L579.3 338.8" stroke="#a010e6" stroke-width="1.0" fill="none"/>
<path d="M597.4 322.7V329.5M594.0 326.1H600.8M595.0 323.7L599.8 328.5M595.0 328.5L599.8 323.7" stroke="#a010e6" stroke-width="1.0" fill="none"/>
<path d="M612.8 309.7V316.5M609.4 313.1H616.2M610.4 310.7L615.3 315.5M610.4 315.5L615.3 310.7" stroke="#a010e6" stroke-width="1.0" fill="none"/>
<path d="M633.4 290.9V297.7M630.0 294.3H636.8M631.0 291.9L635.8 296.7M631.0 296.7L635.8 291.9" stroke="#a010e6" stroke-width="1.0" fill="none"/>
<path d="M648.8 273.3V280.1M645.4 276.7H652.2M646.4 274.3L651.3 279.1M646.4 279.1L651.3 274.3" stroke="#a010e6" stroke-width="1.0" fill="none"/>
<path d="M669.4 253.0V259.8M666.0 256.4H672.8M667.0 254.0L671.8 258.8M667.0 258.8L671.8 254.0" stroke="#a010e6" stroke-width="1.0" fill="none"/>
<path d="M684.8 233.3V240.1M681.4 236.7H688.2M682.4 234.3L687.3 239.1M682.4 239.1L687.3 234.3" stroke="#a010e6" stroke-width="1.0" fill="none"/>
<path d="M561.4 347.5L576.8 339.5L597.4 320.3L612.8 299.4L633.4 261.4L648.8 220.0L669.4 188.6" stroke="#1a1aff" stroke-width="1.0" fill="none"/>
<path d="M561.5 347.5V346.0" stroke="#1a1aff" stroke-width="1.0"/>
<path d="M559.8 346.5H563.0" stroke="#1a1aff" stroke-width="1.0"/>
<path d="M576.5 339.5V336.5" stroke="#1a1aff" stroke-width="1.0"/>
<path d="M575.2 336.5H578.4" stroke="#1a1aff" stroke-width="1.0"/>
<path d="M597.5 320.3V315.7" stroke="#1a1aff" stroke-width="1.0"/>
<path d="M595.8 315.5H599.0" stroke="#1a1aff" stroke-width="1.0"/>
<path d="M612.5 299.4V293.2" stroke="#1a1aff" stroke-width="1.0"/>
<path d="M611.2 293.5H614.4" stroke="#1a1aff" stroke-width="1.0"/>
<path d="M633.5 261.4V251.4" stroke="#1a1aff" stroke-width="1.0"/>
<path d="M631.8 251.5H635.0" stroke="#1a1aff" stroke-width="1.0"/>
<path d="M648.5 220.0V207.4" stroke="#1a1aff" stroke-width="1.0"/>
<path d="M647.2 207.5H650.4" stroke="#1a1aff" stroke-width="1.0"/>
<path d="M669.5 188.6V176.3" stroke="#1a1aff" stroke-width="1.0"/>
<path d="M667.8 176.5H671.0" stroke="#1a1aff" stroke-width="1.0"/>
<circle cx="561.4" cy="347.5" r="1.3" fill="#1a1aff"/>
<circle cx="576.8" cy="339.5" r="1.3" fill="#1a1aff"/>
<circle cx="597.4" cy="320.3" r="1.3" fill="#1a1aff"/>
<circle cx="612.8" cy="299.4" r="1.3" fill="#1a1aff"/>
<circle cx="633.4" cy="261.4" r="1.3" fill="#1a1aff"/>
<circle cx="648.8" cy="220.0" r="1.3" fill="#1a1aff"/>
<circle cx="669.4" cy="188.6" r="1.3" fill="#1a1aff"/>
<text x="519.5" y="166.6" font-size="16" textLength="35.8" lengthAdjust="spacingAndGlyphs" font-weight="normal">2400</text>
<text x="519.5" y="191.7" font-size="16" textLength="35.8" lengthAdjust="spacingAndGlyphs" font-weight="normal">2100</text>
<text x="519.5" y="216.7" font-size="16" textLength="35.8" lengthAdjust="spacingAndGlyphs" font-weight="normal">1800</text>
<text x="519.5" y="241.8" font-size="16" textLength="35.8" lengthAdjust="spacingAndGlyphs" font-weight="normal">1500</text>
<text x="519.5" y="266.9" font-size="16" textLength="35.8" lengthAdjust="spacingAndGlyphs" font-weight="normal">1200</text>
<text x="528.4" y="291.9" font-size="16" textLength="26.9" lengthAdjust="spacingAndGlyphs" font-weight="normal">900</text>
<text x="528.4" y="317.0" font-size="16" textLength="26.9" lengthAdjust="spacingAndGlyphs" font-weight="normal">600</text>
<text x="528.4" y="342.0" font-size="16" textLength="26.9" lengthAdjust="spacingAndGlyphs" font-weight="normal">300</text>
<text x="546.4" y="367.1" font-size="16" textLength="8.9" lengthAdjust="spacingAndGlyphs" font-weight="normal">0</text>
<text x="556.9" y="382.0" font-size="16.3" textLength="9.1" lengthAdjust="spacingAndGlyphs" font-weight="normal">0</text>
<text x="592.9" y="382.0" font-size="16.3" textLength="9.1" lengthAdjust="spacingAndGlyphs" font-weight="normal">7</text>
<text x="624.4" y="382.0" font-size="16.3" textLength="18.0" lengthAdjust="spacingAndGlyphs" font-weight="normal">14</text>
<text x="660.2" y="382.0" font-size="16.3" textLength="18.3" lengthAdjust="spacingAndGlyphs" font-weight="normal">21</text>
<text x="696.2" y="382.0" font-size="16.3" textLength="18.3" lengthAdjust="spacingAndGlyphs" font-weight="normal">28</text>
<text x="614.2" y="400.2" font-size="16" textLength="37.4" lengthAdjust="spacingAndGlyphs" font-weight="normal">Days</text>
<path d="M561.4 397.8V386" stroke="#444" stroke-width="0.8"/><path d="M561.4 383.0L563.5 387.3H559.3Z" fill="#222"/>
<g transform="translate(515.8 337.6) rotate(-90) scale(1 1.14)"><text x="0" y="0" font-size="17.1" textLength="165.8" lengthAdjust="spacingAndGlyphs">Tumor Volume&#160; (mm<tspan font-size="11" dy="-7.2">3</tspan><tspan dy="7.2">)</tspan></text></g>
<text x="574.0" y="136.0" font-size="16.2" textLength="171.5" lengthAdjust="spacingAndGlyphs" font-weight="normal">DLD1 xenograft model</text>
<text x="680.6" y="165.5" font-size="16.2" textLength="121.1" lengthAdjust="spacingAndGlyphs" font-weight="normal">TGI% @Day 21</text>
<path d="M729 166.2H802.1" stroke="#000" stroke-width="1.2"/>
<path d="M689.3 181.4H699.3" stroke="#1a1aff" stroke-width="1.0"/><circle cx="694.3" cy="181.4" r="1.3" fill="#1a1aff"/>
<text x="705.1" y="186.6" font-size="16.2" textLength="54.0" lengthAdjust="spacingAndGlyphs" font-weight="normal">Vehicle</text>
<text x="697.9" y="198.4" font-size="14.3" textLength="32.9" lengthAdjust="spacingAndGlyphs" font-weight="normal">8.9%</text>
<path d="M736.0 193.8H746.0" stroke="#ff7f00" stroke-width="1.9"/><path d="M738.1 193.8L741.0 190.8L743.9 193.8L741.0 196.8Z" fill="#ff7f00"/><path d="M741.0 189.9V197.7M737.6 193.8H744.4" stroke="#ff7f00" stroke-width="1.0"/>
<text x="751.8" y="199.9" font-size="16.2" textLength="203.5" lengthAdjust="spacingAndGlyphs" font-weight="normal">hIgG1 Benchmark, 8mg/kg</text>
<text x="693.3" y="233.6" font-size="14.3" textLength="40.7" lengthAdjust="spacingAndGlyphs" font-weight="normal">34.7%</text>
<path d="M738.0 225.0H749.2" stroke="#8b0000" stroke-width="1.6"/><path d="M740.7 222.1L746.5 227.9M740.7 227.9L746.5 222.1" stroke="#8b0000" stroke-width="1.1" fill="none"/>
<text x="753.8" y="230.6" font-size="16.2" textLength="143.3" lengthAdjust="spacingAndGlyphs" font-weight="normal">hIgG ADC, 8mg/kg</text>
<text x="693.3" y="245.6" font-size="14.3" textLength="40.7" lengthAdjust="spacingAndGlyphs" font-weight="normal">39.2%</text>
<path d="M737.9 240.0H748.9" stroke="#a010e6" stroke-width="1.6"/><path d="M743.4 237.0V243.0M740.4 240.0H746.4M741.2 237.8L745.6 242.2M741.2 242.2L745.6 237.8" stroke="#a010e6" stroke-width="1.1" fill="none"/>
<text x="753.8" y="245.6" font-size="16.2" textLength="152.1" lengthAdjust="spacingAndGlyphs" font-weight="normal">Benchmark, 3mg/kg</text>
<text x="711.6" y="284.5" font-size="14.3" textLength="40.2" lengthAdjust="spacingAndGlyphs" font-weight="normal">66.8%</text>
<path d="M757.7 279.2H767.7" stroke="#10108c" stroke-width="1.4" stroke-dasharray="1.6 1.6"/><path d="M760.3 276.8L765.1 281.6M760.3 281.6L765.1 276.8" stroke="#10108c" stroke-width="1.0" fill="none"/>
<text x="773.0" y="285.0" font-size="16.2" textLength="164.8" lengthAdjust="spacingAndGlyphs" font-weight="normal">ADAM9 ADC, 3mg/kg</text>
<text x="711.6" y="342.8" font-size="14.3" textLength="40.2" lengthAdjust="spacingAndGlyphs" font-weight="normal">90.2%</text>
<path d="M757.7 337.1H767.7" stroke="#f4b183" stroke-width="1.4"/><path d="M760.1 334.5L765.3 339.7M760.1 339.7L765.3 334.5" stroke="#f4b183" stroke-width="1.1" fill="none"/>
<text x="773.0" y="343.0" font-size="16.2" textLength="164.8" lengthAdjust="spacingAndGlyphs" font-weight="normal">ADAM9 ADC, 8mg/kg</text>
</svg>
<p id="cap"><b>Figure 6.</b> (A) Calu-3 cells, non-sqNSCLC (EGFR WT), were implanted subcutaneously into 6–8-week-old BALB/c<br>nude mice, and treatment was initiated when tumor volume reached ~190 mm³. (B) DLD1 CRC cells, which harbors<br>the MSI-H and KRAS G13D mutation, were established in BALB/c nude female mice and dosing began at a volume<br>of ~170 mm³. All ADCs were DAR 8. n=6 for each group.</p>
</body>
</html>
